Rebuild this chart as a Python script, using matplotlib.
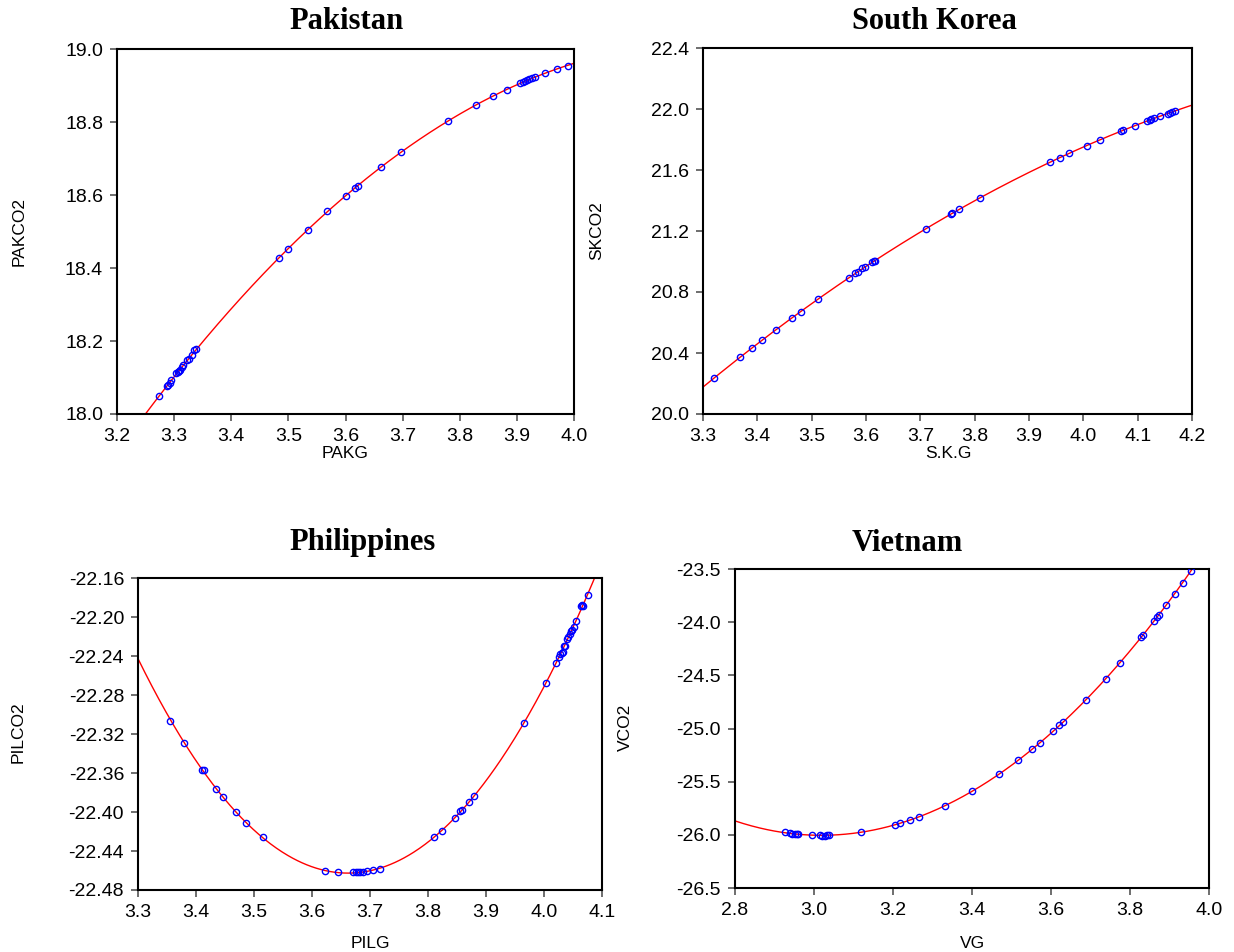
import numpy as np
import matplotlib
matplotlib.use("Agg")
import matplotlib.pyplot as plt
from matplotlib.ticker import FormatStrFormatter

plt.rcParams['font.family'] = ['Liberation Sans', 'DejaVu Sans']
plt.rcParams['axes.unicode_minus'] = False

# ---------------- data ----------------
pak_x = [3.273, 3.288, 3.290, 3.292, 3.294, 3.304, 3.306, 3.309, 3.311, 3.314, 3.316,
         3.323, 3.326, 3.332, 3.335, 3.339, 3.483, 3.499, 3.535, 3.568, 3.600, 3.617,
         3.622, 3.663, 3.697, 3.780, 3.829, 3.858, 3.882, 3.906, 3.910, 3.914, 3.918,
         3.922, 3.927, 3.932, 3.950, 3.970, 3.989]
pak_y = [18.048, 18.078, 18.080, 18.085, 18.092, 18.112, 18.114, 18.117, 18.121, 18.128,
         18.135, 18.148, 18.150, 18.161, 18.174, 18.179, 18.427, 18.452, 18.505, 18.555,
         18.598, 18.619, 18.626, 18.678, 18.717, 18.803, 18.846, 18.871, 18.888, 18.906,
         18.909, 18.913, 18.915, 18.918, 18.921, 18.923, 18.934, 18.944, 18.954]

sk_x = [3.320, 3.369, 3.390, 3.408, 3.435, 3.463, 3.480, 3.512, 3.568, 3.580, 3.585,
        3.593, 3.599, 3.611, 3.614, 3.617, 3.710, 3.756, 3.759, 3.772, 3.810, 3.938,
        3.957, 3.974, 4.006, 4.031, 4.070, 4.073, 4.095, 4.118, 4.122, 4.125, 4.130,
        4.141, 4.155, 4.160, 4.164, 4.168]
sk_y = [20.236, 20.374, 20.433, 20.483, 20.553, 20.627, 20.669, 20.752, 20.890, 20.925,
        20.931, 20.955, 20.966, 20.997, 21.003, 21.005, 21.213, 21.311, 21.316, 21.342,
        21.416, 21.650, 21.681, 21.709, 21.760, 21.797, 21.858, 21.860, 21.891, 21.924,
        21.928, 21.932, 21.939, 21.954, 21.969, 21.976, 21.980, 21.985]

phl_x = [3.356, 3.379, 3.411, 3.413, 3.435, 3.447, 3.469, 3.487, 3.515, 3.622, 3.644,
         3.670, 3.676, 3.679, 3.683, 3.688, 3.694, 3.706, 3.717, 3.811, 3.825, 3.847,
         3.856, 3.859, 3.870, 3.879, 3.965, 4.004, 4.021, 4.026, 4.028, 4.031, 4.033,
         4.035, 4.036, 4.039, 4.042, 4.044, 4.046, 4.048, 4.051, 4.055, 4.064, 4.066,
         4.067, 4.076]
phl_y = [-22.3065, -22.329, -22.357, -22.357, -22.376, -22.385, -22.400, -22.411, -22.426,
         -22.460, -22.462, -22.462, -22.462, -22.462, -22.462, -22.462, -22.461, -22.459,
         -22.458, -22.426, -22.419, -22.406, -22.399, -22.398, -22.390, -22.384, -22.309,
         -22.268, -22.247, -22.241, -22.238, -22.237, -22.236, -22.230, -22.230, -22.223,
         -22.220, -22.217, -22.214, -22.213, -22.210, -22.204, -22.189, -22.188, -22.189,
         -22.177]

vn_x = [2.927, 2.940, 2.945, 2.951, 2.956, 2.960, 2.995, 3.015, 3.021, 3.027, 3.033,
        3.038, 3.118, 3.205, 3.217, 3.243, 3.265, 3.332, 3.401, 3.469, 3.517, 3.551,
        3.571, 3.606, 3.621, 3.631, 3.688, 3.739, 3.774, 3.828, 3.834, 3.862, 3.869,
        3.873, 3.891, 3.913, 3.933, 3.954]
vn_y = [-25.977, -25.984, -25.990, -25.993, -25.990, -25.993, -26.002, -26.005, -26.009,
        -26.009, -26.005, -26.005, -25.974, -25.905, -25.893, -25.862, -25.833, -25.730,
        -25.586, -25.430, -25.299, -25.195, -25.139, -25.020, -24.970, -24.936, -24.732,
        -24.532, -24.385, -24.144, -24.119, -23.985, -23.947, -23.935, -23.841, -23.735,
        -23.628, -23.519]

titles = ["Pakistan", "South Korea", "Philippines", "Vietnam"]
xlabels = ["PAKG", "S.K.G", "PILG", "VG"]
ylabels = ["PAKCO2", "SKCO2", "PILCO2", "VCO2"]

# ---------------- figure ----------------
W, H = 1234, 952
fig = plt.figure(figsize=(W / 100, H / 100), dpi=100)


def add_ax(l, r, t, b):
    return fig.add_axes([l / W, 1 - b / H, (r - l) / W, (b - t) / H])


panels = [
    dict(x=pak_x, y=pak_y, box=(117, 574, 49, 414), xlim=(3.2, 4.0), ylim=(18.0, 19.0),
         xt=np.arange(3.2, 4.001, 0.1), yt=np.arange(18.0, 19.001, 0.2), xf='%.1f', yf='%.1f',
         title_xy=(347, 29), xl_xy=(345, 458), yl_xy=(19, 231)),
    dict(x=sk_x, y=sk_y, box=(703, 1192, 48, 414), xlim=(3.3, 4.2), ylim=(20.0, 22.4),
         xt=np.arange(3.3, 4.201, 0.1), yt=np.arange(20.0, 22.401, 0.4), xf='%.1f', yf='%.1f',
         title_xy=(934, 29), xl_xy=(948, 458), yl_xy=(597, 231)),
    dict(x=phl_x, y=phl_y, box=(138, 602, 578, 890), xlim=(3.3, 4.1), ylim=(-22.48, -22.16),
         xt=np.arange(3.3, 4.101, 0.1), yt=np.arange(-22.48, -22.159, 0.04), xf='%.1f', yf='%.2f',
         title_xy=(363, 550), xl_xy=(370, 948), yl_xy=(18, 732)),
    dict(x=vn_x, y=vn_y, box=(735, 1209, 569, 888), xlim=(2.8, 4.0), ylim=(-26.5, -23.5),
         xt=np.arange(2.8, 4.001, 0.2), yt=np.arange(-26.5, -23.499, 0.5), xf='%.1f', yf='%.1f',
         title_xy=(907, 551), xl_xy=(972, 948), yl_xy=(625, 727)),
]

for i, p in enumerate(panels):
    ax = add_ax(*p['box'])
    x = np.array(p['x'])
    y = np.array(p['y'])
    coef = np.polyfit(x, y, 2)
    xs = np.linspace(p['xlim'][0], p['xlim'][1], 400)
    ax.plot(xs, np.polyval(coef, xs), color='red', lw=1.0, zorder=2)
    ax.plot(x, y, linestyle='none', marker='o', ms=4.5, mfc='none', mec='blue',
            mew=1.0, zorder=3)
    ax.set_xlim(*p['xlim'])
    ax.set_ylim(*p['ylim'])
    ax.set_xticks(p['xt'])
    ax.set_yticks(p['yt'])
    ax.xaxis.set_major_formatter(FormatStrFormatter(p['xf']))
    ax.yaxis.set_major_formatter(FormatStrFormatter(p['yf']))
    ax.tick_params(direction='out', length=5, width=1.2, color='#555555',
                   labelsize=14, pad=5, labelcolor='black')
    for s in ax.spines.values():
        s.set_linewidth(1.5)
        s.set_color('black')
    tx, ty = p['title_xy']
    fig.text(tx / W, 1 - ty / H, titles[i], ha='center', va='baseline',
             fontsize=22, fontweight='bold', family='Liberation Serif')
    lx, ly = p['xl_xy']
    fig.text(lx / W, 1 - ly / H, xlabels[i], ha='center', va='baseline', fontsize=12.5)
    yx, yy = p['yl_xy']
    fig.text(yx / W, 1 - yy / H, ylabels[i], ha='center', va='center', rotation=90,
             fontsize=12.5)

fig.savefig('out.png', dpi=100)
